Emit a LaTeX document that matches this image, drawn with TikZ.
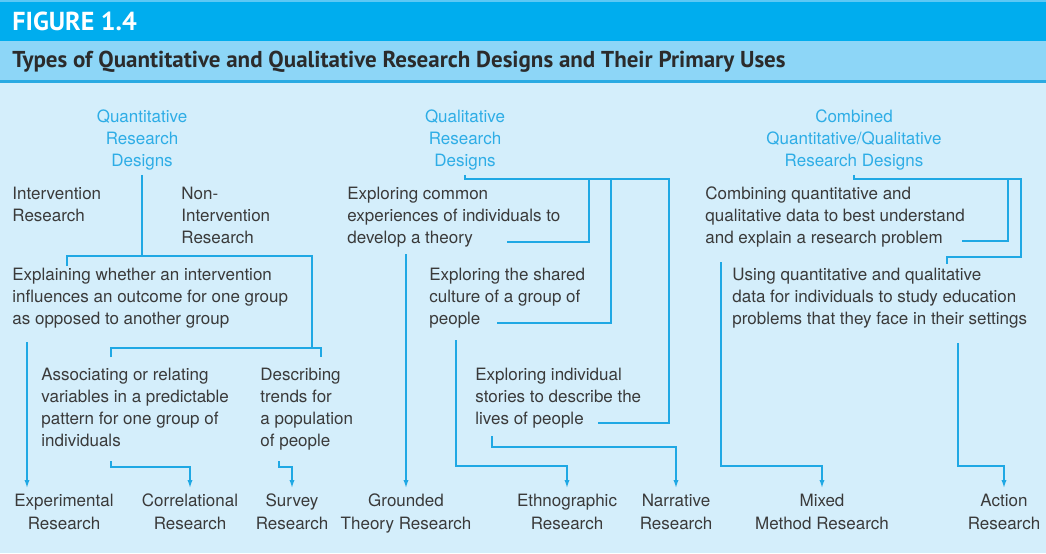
\documentclass[tikz,border=0pt]{standalone}
\usepackage{fontspec}
\setmainfont{TeX Gyre Heros}
\newfontfamily\figfont{PT Sans}
\usepackage{tikz}
\usetikzlibrary{positioning, arrows.meta, calc}
\definecolor{barblue}{HTML}{00ADEE}
\definecolor{topblue}{HTML}{5CC8F5}
\definecolor{subblue}{HTML}{8DD6F7}
\definecolor{ruleblue}{HTML}{2AAAE2}
\definecolor{paleblue}{HTML}{D4EEFB}
\definecolor{linkc}{HTML}{1FA8E4}
\definecolor{headc}{HTML}{2EADE6}
\definecolor{ink}{HTML}{3A3A3A}
\definecolor{titleink}{HTML}{2B2B2B}
\tikzset{
  headtxt/.style={align=center, inner sep=0pt, outer sep=2.5pt, text=headc,
                  font=\fontsize{8.5}{11}\selectfont, anchor=north},
  bodytxt/.style={align=left, inner sep=0pt, text=ink,
                  font=\fontsize{8.5}{11}\selectfont, anchor=north west},
  leaftxt/.style={align=center, inner sep=0pt, outer sep=3pt, text=ink,
                  font=\fontsize{8.5}{11.5}\selectfont, anchor=north},
  link/.style={draw=linkc, line width=0.7pt},
  arr/.style={link, -{Latex[length=4pt, width=2.6pt]}},
}

\begin{document}
\begin{tikzpicture}[x=0.5pt, y=-0.5pt]
  \useasboundingbox (0,0) rectangle (1046,553);
  % panel and header bars
  \fill[paleblue] (0,0) rectangle (1046,553);
  \fill[barblue] (0,0) rectangle (1046,41);
  \fill[topblue] (0,0) rectangle (1046,2);
  \fill[subblue] (0,41) rectangle (1046,80);
  \fill[ruleblue] (0,80) rectangle (1046,83);
  \node[anchor=west, inner sep=0pt, text=white, font=\figfont\bfseries\fontsize{13}{14}\selectfont] (fig) at (12,21) {FIGURE 1.4};
  \node[anchor=west, inner sep=0pt, text=titleink, font=\figfont\bfseries\fontsize{11.5}{13}\selectfont] (ttl) at (12,62)
    {Types of Quantitative and Qualitative Research Designs and Their Primary Uses};

  % design headings
  \node[headtxt] (qnt) at (142,104.5) {Quantitative\\Research\\Designs};
  \node[headtxt] (qlt) at (465,104.5) {Qualitative\\Research\\Designs};
  \node[headtxt] (cmb) at (854,104.5) {Combined\\Quantitative/Qualitative\\Research Designs};

  % uses
  \node[bodytxt] (intv) at (12,186.5) {Intervention\\Research};
  \node[bodytxt] (nonintv) at (181,186.5) {Non-\\Intervention\\Research};
  \node[bodytxt] (expl) at (12,267.5) {Explaining whether an intervention\\influences an outcome for one group\\as opposed to another group};
  \node[bodytxt] (assoc) at (41,367.5) {Associating or relating\\variables in a predictable\\pattern for one group of\\individuals};
  \node[bodytxt] (descr) at (260,367.5) {Describing\\trends for\\a population\\of people};
  \node[bodytxt] (common) at (347,186.5) {Exploring common\\experiences of individuals to\\develop a theory};
  \node[bodytxt] (cult) at (429,267.5) {Exploring the shared\\culture of a group of\\people};
  \node[bodytxt] (stor) at (475,367.5) {Exploring individual\\stories to describe the\\lives of people};
  \node[bodytxt] (comb) at (705,186.5) {Combining quantitative and\\qualitative data to best understand\\and explain a research problem};
  \node[bodytxt] (using) at (732,267.5) {Using quantitative and qualitative\\data for individuals to study education\\problems that they face in their settings};

  % research types
  \node[leaftxt] (exper) at (64,488) {Experimental\\Research};
  \node[leaftxt] (corr) at (190,488) {Correlational\\Research};
  \node[leaftxt] (surv) at (292,488) {Survey\\Research};
  \node[leaftxt] (grt) at (406,488) {Grounded\\Theory Research};
  \node[leaftxt] (eth) at (567,488) {Ethnographic\\Research};
  \node[leaftxt] (nar) at (676,488) {Narrative\\Research};
  \node[leaftxt] (mix) at (822,488) {Mixed\\Method Research};
  \node[leaftxt] (act) at (1004,488) {Action\\Research};

  % bend and end points
  \coordinate (expl-in) at (67,266);
  \coordinate (ni-bar) at (312,256);
  \coordinate (ni-drop) at (312,348);
  \coordinate (assoc-in) at (111,357);
  \coordinate (descr-in) at (321,357);
  \coordinate (expl-out) at (27,342);
  \coordinate (assoc-out) at (111,461);
  \coordinate (descr-out) at (279,461);
  \coordinate (common-out) at (406,254);
  \coordinate (qb1) at (589,179);
  \coordinate (qb2) at (611,179);
  \coordinate (qb3) at (669,179);
  \coordinate (common-in) at (507,242);
  \coordinate (cult-in) at (497,323);
  \coordinate (stor-in) at (598,423);
  \coordinate (cult-out) at (456,340);
  \coordinate (stor-out) at (492,436);
  \coordinate (cb1) at (1008,179);
  \coordinate (cb2) at (1021,179);
  \coordinate (comb-in) at (962,241);
  \coordinate (using-bend) at (947,257);
  \coordinate (using-in) at (947,264);
  \coordinate (comb-out) at (721,262);
  \coordinate (using-out) at (958,343);

  % quantitative branch
  \draw[link] (qnt.south) -- (qnt.south |- ni-bar);
  \draw[link] (expl-in) |- (ni-bar) -- (ni-drop);
  \draw[link] (assoc-in) |- (ni-drop) -| (descr-in);
  \draw[arr] (expl-out) -- (expl-out |- exper.north);
  \draw[arr] (assoc-out) -- ++(0,6) -| (corr.north);
  \draw[arr] (descr-out) -- ++(0,6) -| (surv.north);

  % qualitative branch
  \draw[link] (qlt.south) |- (qb3) |- (stor-in);
  \draw[link] (qb1) |- (common-in);
  \draw[link] (qb2) |- (cult-in);
  \draw[arr] (common-out) -- (grt.north);
  \draw[arr] (cult-out) -- ++(0,126) -| (eth.north);
  \draw[arr] (stor-out) -- ++(0,11) -| (nar.north);

  % combined branch
  \draw[link] (cmb.south) |- (cb2) |- (using-bend) -- (using-in);
  \draw[link] (cb1) |- (comb-in);
  \draw[arr] (comb-out) -- ++(0,204) -| (mix.north);
  \draw[arr] (using-out) -- ++(0,123) -| (act.north);
\end{tikzpicture}
\end{document}
